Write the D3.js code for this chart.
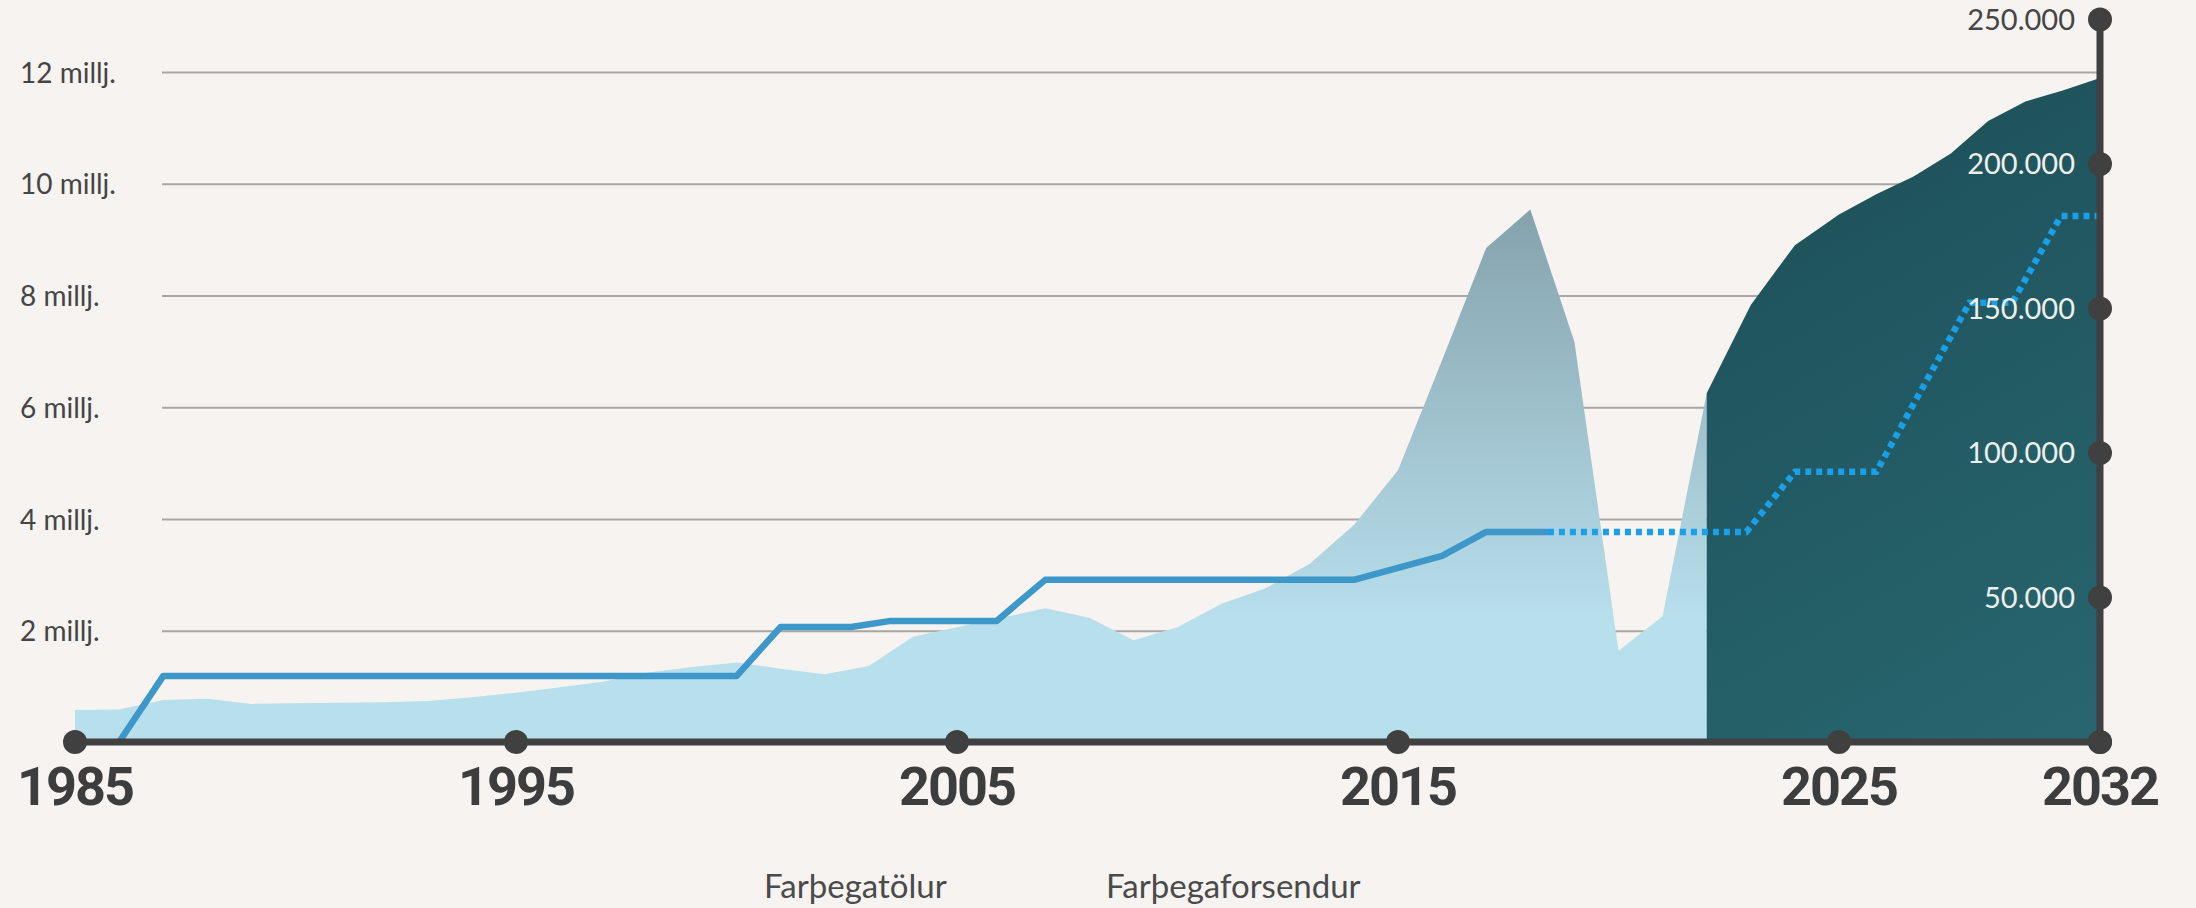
<!DOCTYPE html>
<html>
<head>
<meta charset="utf-8">
<script src="https://cdn.jsdelivr.net/npm/d3@7/dist/d3.min.js"></script>
<style>
    body { margin: 0; background: #f6f3f0; }
    svg { display: block; }
</style>
</head>
<body>
<svg id="chart" width="2196" height="908"></svg>
<script>
// -- passengers per year, millions (light area) -- //
let years = [1985, 1986, 1987, 1988, 1989, 1990, 1991, 1992, 1993, 1994, 1995, 1996, 1997, 1998, 1999,
    2000, 2001, 2002, 2003, 2004, 2005, 2006, 2007, 2008, 2009, 2010, 2011, 2012, 2013, 2014,
    2015, 2016, 2017, 2018, 2019, 2020, 2021, 2022];
let passengers = [0.59, 0.60, 0.77, 0.79, 0.70, 0.71, 0.72, 0.73, 0.75, 0.82, 0.90, 1.00, 1.10, 1.26, 1.36,
    1.44, 1.33, 1.23, 1.38, 1.90, 2.07, 2.24, 2.41, 2.24, 1.84, 2.07, 2.49, 2.77, 3.21, 3.90,
    4.88, 6.85, 8.86, 9.55, 7.18, 1.65, 2.27, 6.26];

// -- forecast, millions (dark area) -- //
let forecastYears = [2022, 2023, 2024, 2025, 2026, 2027, 2028, 2029, 2030, 2031, 2032];
let forecast = [6.26, 7.84, 8.91, 9.46, 9.82, 10.14, 10.55, 11.13, 11.48, 11.68, 11.9];

// -- capacity line, right axis -- //
let capYears = [1986, 1987, 2000, 2001, 2002.6, 2003.5, 2005.9, 2007, 2014, 2016, 2017, 2018.4];
let capValues = [0, 22800, 22800, 39800, 39800, 41900, 41900, 56100, 56100, 64400, 72700, 72700];
let planYears = [2018.4, 2022.9, 2024, 2026, 2028.5, 2029.65, 2030.95, 2032];
let planValues = [72700, 72700, 93500, 93500, 152000, 152000, 182000, 182000];

// -- ticks and labels -- //
let yearTicks = [1985, 1995, 2005, 2015, 2025, 2032];
let leftTicks = [2, 4, 6, 8, 10, 12];
let rightTicks = [0, 50000, 100000, 150000, 200000, 250000];
let legendLabels = ["Farþegatölur", "Farþegaforsendur"];

let svg = d3.select("#chart");
let dark = "#404040";

let x = d3.scaleLinear().domain([1985, 2025, 2032]).range([75, 1839, 2100]);
let yL = d3.scaleLinear().domain([0, 12]).range([743, 72.5]);
let yR = d3.scaleLinear().domain([0, 250000]).range([742, 19.5]);

let fmt = d3.formatLocale({ decimal: ",", thousands: ".", grouping: [3], currency: ["", ""] }).format(",");

// -- gradients -- //
let defs = svg.append("defs");
let lg = defs.append("linearGradient").attr("id", "lightGrad")
    .attr("gradientUnits", "userSpaceOnUse")
    .attr("x1", 0).attr("x2", 0).attr("y1", yL(9.6)).attr("y2", yL(2.2));
lg.append("stop").attr("offset", "0%").attr("stop-color", "#84a2ac");
lg.append("stop").attr("offset", "100%").attr("stop-color", "#b8dfec");

let dg = defs.append("linearGradient").attr("id", "darkGrad")
    .attr("gradientUnits", "userSpaceOnUse")
    .attr("x1", x(2022)).attr("y1", yL(12)).attr("x2", x(2032)).attr("y2", yL(0));
dg.append("stop").attr("offset", "0%").attr("stop-color", "#1c4e57");
dg.append("stop").attr("offset", "100%").attr("stop-color", "#28666f");

// -- gridlines -- //
svg.append("g").selectAll("line")
    .data(leftTicks)
    .enter()
    .append("line")
    .attr("x1", 162).attr("x2", x(2032))
    .attr("y1", d => yL(d)).attr("y2", d => yL(d))
    .style("stroke", "#a9a7a5")
    .style("stroke-width", 2.2);

svg.append("g").selectAll("text")
    .data(leftTicks)
    .enter()
    .append("text")
    .attr("x", 20)
    .attr("y", d => yL(d))
    .attr("dy", "0.36em")
    .text(d => `${d} millj.`)
    .style("font-family", "Lato")
    .style("font-size", "28px")
    .style("fill", "#454545");

// -- areas -- //
let area = d3.area()
    .x(d => x(d[0]))
    .y0(yL(0))
    .y1(d => yL(d[1]));

svg.append("path")
    .datum(years.map((y, i) => [y, passengers[i]]))
    .attr("d", area)
    .style("fill", "url(#lightGrad)");

svg.append("path")
    .datum(forecastYears.map((y, i) => [y, forecast[i]]))
    .attr("d", area)
    .style("fill", "url(#darkGrad)");

// -- capacity lines -- //
let line = d3.line()
    .x(d => x(d[0]))
    .y(d => yR(d[1]));

svg.append("path")
    .datum(capYears.map((y, i) => [y, capValues[i]]))
    .attr("d", line)
    .style("fill", "none")
    .style("stroke", "#3d97c9")
    .style("stroke-width", 6.5)
    .style("stroke-linejoin", "round");

svg.append("path")
    .datum(planYears.map((y, i) => [y, planValues[i]]))
    .attr("d", line)
    .style("fill", "none")
    .style("stroke", "#1a9fe9")
    .style("stroke-width", 6.5)
    .style("stroke-dasharray", "6 5");

// -- axes -- //
svg.append("line")
    .attr("x1", x(1985)).attr("x2", x(2032))
    .attr("y1", yR(0)).attr("y2", yR(0))
    .style("stroke", dark).style("stroke-width", 7);

svg.append("line")
    .attr("x1", x(2032)).attr("x2", x(2032))
    .attr("y1", yR(0)).attr("y2", yR(250000))
    .style("stroke", dark).style("stroke-width", 7);

svg.append("g").selectAll("circle")
    .data(yearTicks)
    .enter()
    .append("circle")
    .attr("cx", d => x(d))
    .attr("cy", yR(0))
    .attr("r", 12)
    .style("fill", dark);

svg.append("g").selectAll("circle")
    .data(rightTicks)
    .enter()
    .append("circle")
    .attr("cx", x(2032))
    .attr("cy", d => yR(d))
    .attr("r", 12)
    .style("fill", dark);

svg.append("g").selectAll("text")
    .data(yearTicks)
    .enter()
    .append("text")
    .attr("x", d => x(d))
    .attr("y", 805)
    .attr("text-anchor", "middle")
    .text(d => d)
    .style("font-family", "Roboto")
    .style("font-weight", "700")
    .style("font-size", "54px")
    .style("letter-spacing", "-2px")
    .style("fill", "#3d3d3d");

svg.append("g").selectAll("text")
    .data(rightTicks.filter(d => d > 0))
    .enter()
    .append("text")
    .attr("x", 2075)
    .attr("y", d => yR(d))
    .attr("dy", "0.36em")
    .attr("text-anchor", "end")
    .text(d => fmt(d))
    .style("font-family", "Lato")
    .style("font-size", "29px")
    .style("fill", d => d === 250000 ? "#454545" : "#eeeeea");

// -- legend labels -- //
svg.append("g").selectAll("text")
    .data(legendLabels)
    .enter()
    .append("text")
    .attr("x", (d, i) => [764, 1106][i])
    .attr("y", 898)
    .text(d => d)
    .style("font-family", "Lato")
    .style("font-size", "33px")
    .style("fill", "#4a4a4a");
</script>
</body>
</html>
